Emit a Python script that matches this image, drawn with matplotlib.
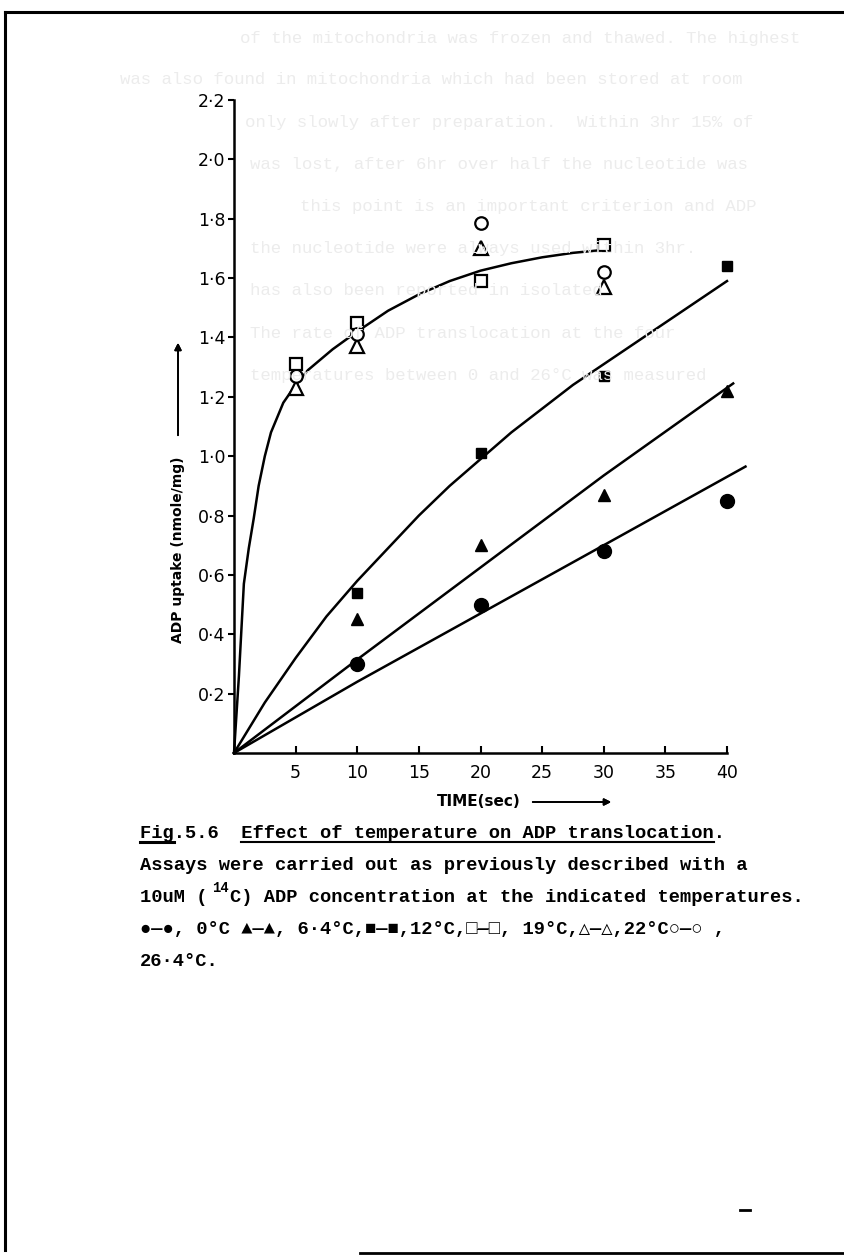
import matplotlib
matplotlib.use("Agg")
import matplotlib.pyplot as plt
from matplotlib.lines import Line2D

# --- data ---
t_pts = [10, 20, 30, 40]
c0 = [0.30, 0.50, 0.68, 0.85]          # 0 C, filled circles
c64 = [0.45, 0.70, 0.87, 1.22]         # 6.4 C, filled triangles
c12 = [0.54, 1.01, 1.27, 1.64]         # 12 C, filled squares

t_open = [5, 10, 20, 30]
c19 = [1.31, 1.45, 1.59, 1.71]         # 19 C, open squares
c22 = [1.23, 1.37, 1.70, 1.57]         # 22 C, open triangles
c264 = [1.27, 1.41, 1.785, 1.62]       # 26.4 C, open circles

# hand drawn curves
fit0_t = [0, 10, 20, 30, 41.5]
fit0_v = [0, 0.24, 0.47, 0.70, 0.965]
fit64_t = [0, 10, 20, 30, 40.5]
fit64_v = [0, 0.315, 0.625, 0.935, 1.245]
fit12_t = [0, 2.5, 5, 7.5, 10, 12.5, 15, 17.5, 20, 22.5, 25, 27.5, 30, 32.5, 35, 37.5, 40]
fit12_v = [0, 0.17, 0.32, 0.46, 0.58, 0.69, 0.80, 0.90, 0.99, 1.08, 1.16, 1.24, 1.31, 1.38, 1.45, 1.52, 1.59]
fitop_t = [0, 0.4, 0.8, 1.2, 1.6, 2.0, 2.5, 3, 4, 5, 6, 8, 10, 12.5, 15, 17.5, 20, 22.5, 25, 27.5, 30]
fitop_v = [0, 0.26, 0.57, 0.69, 0.79, 0.90, 1.00, 1.08, 1.18, 1.24, 1.29, 1.36, 1.42, 1.49, 1.545,
           1.59, 1.625, 1.65, 1.67, 1.685, 1.695]

xticks = [5, 10, 15, 20, 25, 30, 35, 40]
yticks = [0.2, 0.4, 0.6, 0.8, 1.0, 1.2, 1.4, 1.6, 1.8, 2.0, 2.2]
ylabels = ["0·2", "0·4", "0·6", "0·8", "1·0", "1·2", "1·4", "1·6", "1·8", "2·0", "2·2"]

# caption lines: (column, line number, text)
caption = [
    (0, 0, "Fig.5.6  Effect of temperature on ADP translocation."),
    (0, 1, "Assays were carried out as previously described with a"),
    (0, 2, "10uM ("),
    (8, 2, "C) ADP concentration at the indicated temperatures."),
    (0, 3, "●—●, 0°C ▲—▲, 6·4°C,■—■,12°C,□—□, 19°C,△—△,22°C○—○ ,"),
    (0, 4, "26·4°C."),
]

# faint text showing through from the back of the page
ghost = [
    (240, 38, "of the mitochondria was frozen and thawed. The highest"),
    (120, 80, "was also found in mitochondria which had been stored at room"),
    (245, 122, "only slowly after preparation.  Within 3hr 15% of"),
    (250, 164, "was lost, after 6hr over half the nucleotide was"),
    (300, 206, "this point is an important criterion and ADP"),
    (250, 248, "the nucleotide were always used within 3hr."),
    (250, 290, "has also been reported in isolated"),
    (250, 333, "The rate of ADP translocation at the four"),
    (250, 376, "temperatures between 0 and 26°C was measured"),
]

W, H = 844, 1256
fig = plt.figure(figsize=(W / 100, H / 100), dpi=100)
fig.patch.set_facecolor("white")

mono = ["Liberation Mono", "DejaVu Sans Mono", "DejaVu Sans"]

def fx(px):
    return px / W

def fy(py):
    return 1 - py / H

for gx, gy, gtxt in ghost:
    fig.text(fx(gx), fy(gy), gtxt, family=mono, fontsize=12.5, color="#ececec",
             va="center", ha="left", zorder=0)

# page frame from the scan
fig.add_artist(Line2D([fx(5), fx(5)], [fy(12), fy(1250)], color="black", lw=2.2))
fig.add_artist(Line2D([fx(5), fx(844)], [fy(12), fy(12)], color="black", lw=2.2))
fig.add_artist(Line2D([fx(360), fx(844)], [fy(1253), fy(1253)], color="black", lw=2.0))
fig.add_artist(Line2D([fx(740), fx(750)], [fy(1210), fy(1210)], color="black", lw=2.0))

ax = fig.add_axes([fx(234), fy(753), fx(727) - fx(234), fy(100) - fy(753)])
ax.patch.set_alpha(0)
ax.set_xlim(0, 40)
ax.set_ylim(0, 2.2)
for s in ["top", "right"]:
    ax.spines[s].set_visible(False)
for s in ["left", "bottom"]:
    ax.spines[s].set_linewidth(1.8)

ax.set_xticks(xticks)
ax.set_xticklabels([str(v) for v in xticks])
ax.set_yticks(yticks)
ax.set_yticklabels(ylabels)
ax.tick_params(axis="x", direction="in", length=5, width=1.5, pad=8, labelsize=12.5)
ax.tick_params(axis="y", direction="out", length=4, width=1.5, pad=2, labelsize=12.5)

lw = 1.8
ax.plot(fit0_t, fit0_v, color="black", lw=lw, clip_on=False)
ax.plot(fit64_t, fit64_v, color="black", lw=lw, clip_on=False)
ax.plot(fit12_t, fit12_v, color="black", lw=lw, clip_on=False)
ax.plot(fitop_t, fitop_v, color="black", lw=lw, clip_on=False)

ax.plot(t_pts, c0, "o", color="black", ms=10, clip_on=False)
ax.plot(t_pts, c64, "^", color="black", ms=8.5, clip_on=False)
ax.plot(t_pts, c12, "s", color="black", ms=7.5, clip_on=False)
ax.plot(t_open, c19, "s", mfc="white", mec="black", mew=1.6, ms=8, clip_on=False)
ax.plot(t_open, c22, "^", mfc="white", mec="black", mew=1.6, ms=9.5, clip_on=False)
ax.plot(t_open, c264, "o", mfc="white", mec="black", mew=1.6, ms=9, clip_on=False)

# axis titles with arrows, as drawn on the original
fig.text(fx(178), fy(550), "ADP uptake (nmole/mg)", rotation=90, fontsize=10,
         fontweight="bold", ha="center", va="center")
fig.add_artist(plt.annotate("", xy=(fx(178), fy(340)), xytext=(fx(178), fy(438)),
                            xycoords="figure fraction", textcoords="figure fraction",
                            arrowprops=dict(arrowstyle="-|>", color="black", lw=1.3,
                                            mutation_scale=10)))
fig.text(fx(437), fy(802), "TIME(sec)", fontsize=11, fontweight="bold",
         ha="left", va="center")
fig.add_artist(plt.annotate("", xy=(fx(614), fy(802)), xytext=(fx(530), fy(802)),
                            xycoords="figure fraction", textcoords="figure fraction",
                            arrowprops=dict(arrowstyle="-|>", color="black", lw=1.3,
                                            mutation_scale=10)))

# caption, typewriter style
x0 = 140
base = [838, 870, 902, 934, 966]
fs = 13.5
cw = fs * 0.6 * 100 / 72  # monospace character width in pixels
for col, row, line in caption:
    fig.text(fx(x0 + col * cw), fy(base[row]), line, family=mono, fontsize=fs,
             fontweight="bold", ha="left", va="baseline")

fig.text(fx(x0 + 6.4 * cw), fy(base[2] - 10), "14", family=mono, fontsize=10,
         fontweight="bold", ha="left", va="baseline")
# underlines
fig.add_artist(Line2D([fx(x0), fx(x0 + 3 * cw)], [fy(base[0] + 4)] * 2, color="black", lw=2.2))
fig.add_artist(Line2D([fx(x0 + 9 * cw), fx(x0 + 51 * cw)], [fy(base[0] + 4)] * 2,
                      color="black", lw=1.5))

fig.savefig("out.png", dpi=100, facecolor="white")
